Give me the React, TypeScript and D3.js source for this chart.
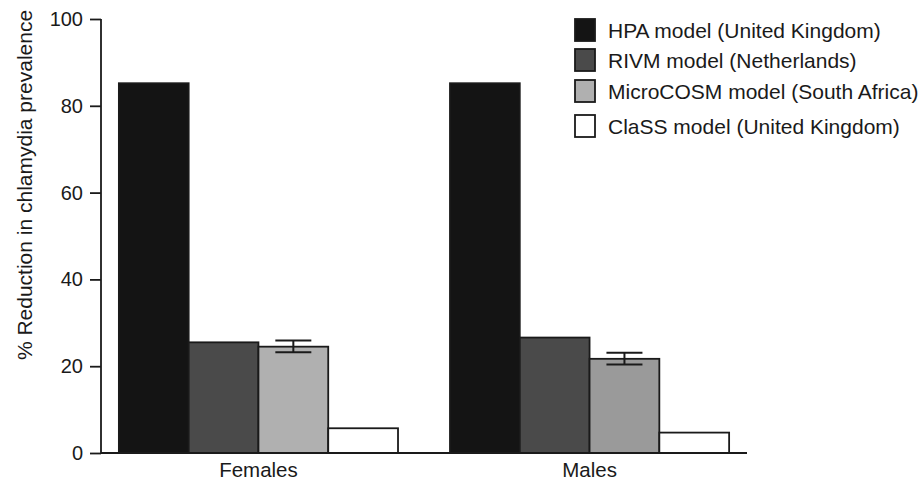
import * as React from 'react';
import { useRef, useEffect } from 'react';
import * as d3 from 'd3';

const groups = ['Females', 'Males'];
const models = [
  'HPA model (United Kingdom)',
  'RIVM model (Netherlands)',
  'MicroCOSM model (South Africa)',
  'ClaSS model (United Kingdom)',
];
const femaleValues = [85.2, 25.5, 24.5, 5.7];
const maleValues = [85.2, 26.6, 21.7, 4.7];
// error bars only for MicroCOSM: [low, high]
const femaleErr = [null, null, [23.2, 25.9], null];
const maleErr = [null, null, [20.4, 23.1], null];
const yTicks = [0, 20, 40, 60, 80, 100];

const femaleFills = ['#141414', '#4a4a4a', '#b0b0b0', '#ffffff'];
const maleFills = ['#141414', '#4a4a4a', '#9a9a9a', '#ffffff'];
const legendFills = ['#141414', '#4a4a4a', '#b0b0b0', '#ffffff'];
const legendOffsets = [0, 30, 61, 96];

const W = 921;
const H = 481;

const App = () => {
  const svgRef = useRef(null);

  useEffect(() => {
    const svg = d3.select(svgRef.current);
    svg.selectAll('*').remove();

    const font = 'Liberation Sans, Arial, sans-serif';
    const ink = '#1a1a1a';

    const x0 = d3.scaleBand().domain(groups).range([101, 747]).paddingInner(0.157).paddingOuter(0.054);
    const x1 = d3.scaleBand().domain(models).range([0, x0.bandwidth()]);
    const y = d3.scaleLinear().domain([0, 100]).range([453, 19]);

    const series = [
      { g: 'Females', vals: femaleValues, err: femaleErr, fills: femaleFills },
      { g: 'Males', vals: maleValues, err: maleErr, fills: maleFills },
    ];

    series.forEach((s) => {
      const gx = x0(s.g);
      const grp = svg.append('g').attr('transform', `translate(${gx},0)`);
      grp.selectAll('rect')
        .data(s.vals)
        .enter()
        .append('rect')
        .attr('x', (d, i) => x1(models[i]))
        .attr('y', (d) => y(d))
        .attr('width', x1.bandwidth())
        .attr('height', (d) => y(0) - y(d))
        .attr('fill', (d, i) => s.fills[i])
        .attr('stroke', ink)
        .attr('stroke-width', 1.8);

      s.err.forEach((e, i) => {
        if (!e) return;
        const cx = x1(models[i]) + x1.bandwidth() / 2;
        const cap = 18;
        grp.append('line').attr('x1', cx).attr('x2', cx).attr('y1', y(e[0])).attr('y2', y(e[1]))
          .attr('stroke', ink).attr('stroke-width', 2);
        [e[0], e[1]].forEach((v) => {
          grp.append('line').attr('x1', cx - cap).attr('x2', cx + cap).attr('y1', y(v)).attr('y2', y(v))
            .attr('stroke', ink).attr('stroke-width', 2);
        });
      });

      svg.append('text')
        .attr('x', gx + x0.bandwidth() / 2)
        .attr('y', 477)
        .attr('text-anchor', 'middle')
        .attr('font-family', font)
        .attr('font-size', 20.5)
        .attr('fill', ink)
        .text(s.g);
    });

    // y axis
    const yAxis = d3.axisLeft(y).tickValues(yTicks).tickSize(11).tickPadding(7);
    const ya = svg.append('g').attr('transform', 'translate(101,0)').call(yAxis);
    ya.select('.domain').attr('stroke', ink).attr('stroke-width', 1.8).attr('d', `M0,${y(100)}V${y(0)}`);
    ya.selectAll('.tick line').attr('stroke', ink).attr('stroke-width', 1.8);
    ya.selectAll('.tick text').attr('font-family', font).attr('font-size', 20).attr('fill', ink);

    // x axis baseline
    svg.append('line').attr('x1', 101).attr('x2', 747).attr('y1', y(0)).attr('y2', y(0))
      .attr('stroke', ink).attr('stroke-width', 2);

    svg.append('text')
      .attr('transform', `translate(32,${(y(0) + y(100)) / 2 - 51}) rotate(-90)`)
      .attr('text-anchor', 'middle')
      .attr('font-family', font)
      .attr('font-size', 21)
      .attr('fill', ink)
      .text('% Reduction in chlamydia prevalence');

    // legend
    const lg = svg.append('g').attr('transform', 'translate(575,19)');
    models.forEach((m, i) => {
      const row = lg.append('g').attr('transform', `translate(0,${legendOffsets[i]})`);
      row.append('rect').attr('x', 0).attr('y', 0).attr('width', 20).attr('height', 22)
        .attr('fill', legendFills[i]).attr('stroke', ink).attr('stroke-width', 1.8);
      row.append('text').attr('x', 33).attr('y', 18.5)
        .attr('font-family', font).attr('font-size', 21).attr('fill', ink).text(m);
    });
  }, []);

  return (
    <svg ref={svgRef} width={W} height={H} style={{ position: 'absolute', left: 0, top: 0, background: '#fff' }}></svg>
  );
};

export default App;
